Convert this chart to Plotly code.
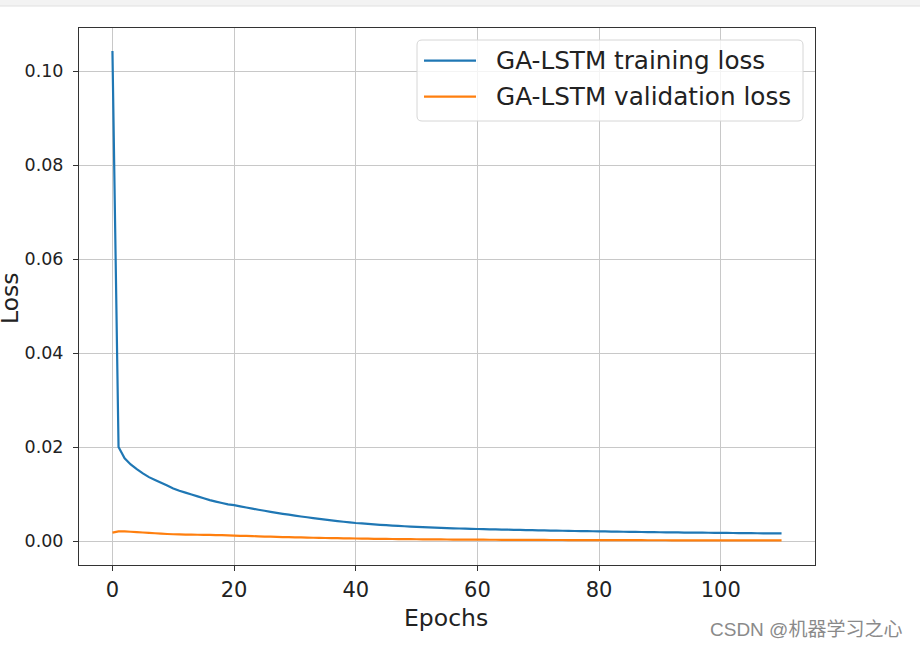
import plotly.graph_objects as go

epochs = list(range(111))

train_loss = [
    0.1043, 0.0200, 0.0176, 0.0163, 0.0153, 0.0144, 0.0136, 0.0130, 0.0124, 0.0118,
    0.0112, 0.0107, 0.0103, 0.0099, 0.0095, 0.0091, 0.0087, 0.0084, 0.0081, 0.0078,
    0.00765, 0.00739, 0.00714, 0.00690, 0.00666, 0.00644, 0.00622, 0.00601, 0.00580, 0.00561,
    0.00542, 0.00523, 0.00506, 0.00488, 0.00472, 0.00456, 0.00440, 0.00425, 0.00411, 0.00397,
    0.00384, 0.00374, 0.00364, 0.00355, 0.00346, 0.00338, 0.00330, 0.00322, 0.00315, 0.00308,
    0.00302, 0.00296, 0.00290, 0.00285, 0.00280, 0.00276, 0.00271, 0.00267, 0.00263, 0.00259,
    0.00256, 0.00253, 0.00250, 0.00247, 0.00244, 0.00241, 0.00238, 0.00236, 0.00233, 0.00231,
    0.00228, 0.00226, 0.00223, 0.00221, 0.00219, 0.00216, 0.00214, 0.00212, 0.00210, 0.00208,
    0.00206, 0.00204, 0.00202, 0.00200, 0.00198, 0.00196, 0.00194, 0.00192, 0.00191, 0.00189,
    0.00187, 0.00186, 0.00184, 0.00183, 0.00181, 0.00180, 0.00178, 0.00177, 0.00176, 0.00174,
    0.00173, 0.00172, 0.00171, 0.00170, 0.00168, 0.00167, 0.00166, 0.00165, 0.00164, 0.00163,
    0.00162,
]

val_loss = [
    0.00180, 0.00205, 0.00205, 0.00198, 0.00190, 0.00182, 0.00174, 0.00166, 0.00158, 0.00150,
    0.00145, 0.00141, 0.00138, 0.00136, 0.00134, 0.00132, 0.00130, 0.00127, 0.00124, 0.00120,
    0.00116, 0.00112, 0.00108, 0.00104, 0.00100, 0.00096, 0.00092, 0.00089, 0.00085, 0.00082,
    0.00079, 0.00076, 0.00073, 0.00070, 0.00067, 0.00065, 0.00062, 0.00060, 0.00058, 0.00056,
    0.00054, 0.00052, 0.00050, 0.00048, 0.00046, 0.00045, 0.00043, 0.00042, 0.00040, 0.00039,
    0.00038, 0.00037, 0.00036, 0.00035, 0.00034, 0.00033, 0.00032, 0.00031, 0.00030, 0.00029,
    0.00029, 0.00028, 0.00027, 0.00027, 0.00026, 0.00026, 0.00025, 0.00025, 0.00024, 0.00024,
    0.00023, 0.00023, 0.00022, 0.00022, 0.00022, 0.00021, 0.00021, 0.00021, 0.00020, 0.00020,
    0.00020, 0.00019, 0.00019, 0.00019, 0.00018, 0.00018, 0.00018, 0.00018, 0.00017, 0.00017,
    0.00017, 0.00017, 0.00016, 0.00016, 0.00016, 0.00016, 0.00016, 0.00015, 0.00015, 0.00015,
    0.00015, 0.00015, 0.00015, 0.00014, 0.00014, 0.00014, 0.00014, 0.00014, 0.00014, 0.00014,
    0.00014,
]

series_names = ["GA-LSTM training loss", "GA-LSTM validation loss"]
series_colors = ["#1f77b4", "#ff7f0e"]
x_ticks = [0, 20, 40, 60, 80, 100]
y_ticks = [0.00, 0.02, 0.04, 0.06, 0.08, 0.10]
y_tick_labels = ["0.00", "0.02", "0.04", "0.06", "0.08", "0.10"]

W, H = 920, 648
L, R, T, B = 79, 815, 28, 565
pw, ph = R - L, B - T


def px(x):
    return (x - L) / pw


def py(y):
    return (B - y) / ph


fig = go.Figure()
for name, data, col in zip(series_names, [train_loss, val_loss], series_colors):
    fig.add_trace(go.Scatter(x=epochs, y=data, mode="lines", name=name,
                             line=dict(color=col, width=2.2, simplify=False), showlegend=False,
                             hoverinfo="skip"))

font_main = "DejaVu Sans, sans-serif"
tick_color = "#222222"

fig.update_layout(
    width=W, height=H,
    margin=dict(l=L, r=W - R, t=T, b=H - B, pad=0),
    paper_bgcolor="white", plot_bgcolor="white",
    font=dict(family=font_main, color=tick_color),
    xaxis=dict(range=[-5.5, 115.5], tickvals=x_ticks, ticktext=[str(v) for v in x_ticks],
               showgrid=True, gridcolor="#c8c8c8", gridwidth=1, zeroline=False,
               showline=True, linecolor="#333333", linewidth=1, mirror=True,
               ticks="outside", ticklen=5, tickcolor="#333333", tickwidth=1,
               tickfont=dict(size=21, family=font_main, color=tick_color),
               ticklabelstandoff=1),
    yaxis=dict(range=[-0.0051, 0.1092], tickvals=y_ticks, ticktext=y_tick_labels,
               showgrid=True, gridcolor="#c8c8c8", gridwidth=1, zeroline=False,
               showline=True, linecolor="#333333", linewidth=1, mirror=True,
               ticks="outside", ticklen=5, tickcolor="#333333", tickwidth=1,
               tickfont=dict(size=17.5, family=font_main, color=tick_color),
               ticklabelstandoff=6),
)

# axis titles
fig.add_annotation(text="Epochs", xref="paper", yref="paper", x=px(446), y=py(618),
                   xanchor="center", yanchor="middle", showarrow=False,
                   font=dict(size=23.5, family=font_main, color=tick_color))
fig.add_annotation(text="Loss", xref="paper", yref="paper", x=px(10), y=py(298),
                   xanchor="center", yanchor="middle", textangle=-90, showarrow=False,
                   font=dict(size=23.5, family=font_main, color=tick_color))

# legend (drawn manually to match the matplotlib look)
lx0, lx1, ly0, ly1 = 417, 803, 40, 121
r = 5
path = (f"M {px(lx0 + r)},{py(ly0)} L {px(lx1 - r)},{py(ly0)} "
        f"Q {px(lx1)},{py(ly0)} {px(lx1)},{py(ly0 + r)} "
        f"L {px(lx1)},{py(ly1 - r)} Q {px(lx1)},{py(ly1)} {px(lx1 - r)},{py(ly1)} "
        f"L {px(lx0 + r)},{py(ly1)} Q {px(lx0)},{py(ly1)} {px(lx0)},{py(ly1 - r)} "
        f"L {px(lx0)},{py(ly0 + r)} Q {px(lx0)},{py(ly0)} {px(lx0 + r)},{py(ly0)} Z")
fig.add_shape(type="path", path=path, xref="paper", yref="paper",
              fillcolor="rgba(255,255,255,0.8)", line=dict(color="#d6d6d6", width=1), layer="above")
rows_y = [60.7, 96.7]
for name, col, ry in zip(series_names, series_colors, rows_y):
    fig.add_shape(type="line", xref="paper", yref="paper", x0=px(424), x1=px(476),
                  y0=py(ry), y1=py(ry), line=dict(color=col, width=2.2), layer="above")
    fig.add_annotation(text=name, xref="paper", yref="paper", x=px(494), y=py(ry),
                       xanchor="left", yanchor="middle", showarrow=False,
                       font=dict(size=24.7, family=font_main, color=tick_color))

# browser top band
fig.add_shape(type="rect", xref="paper", yref="paper", x0=px(0), x1=px(W), y0=py(0), y1=py(6),
              fillcolor="#f3f3f3", line=dict(width=0), layer="above")
fig.add_shape(type="line", xref="paper", yref="paper", x0=px(0), x1=px(W), y0=py(6), y1=py(6),
              line=dict(color="#e0e0e0", width=1), layer="above")

# watermark
fig.add_annotation(text="CSDN @机器学习之心", xref="paper", yref="paper", x=px(904), y=py(629),
                   xanchor="right", yanchor="middle", showarrow=False,
                   font=dict(size=19, family="Liberation Sans, Noto Sans CJK SC, sans-serif", color="#8a8a8a"))

fig.write_html("out.html", config={"displayModeBar": False},
               post_script="document.body.style.margin='0';document.body.style.overflow='hidden';")
